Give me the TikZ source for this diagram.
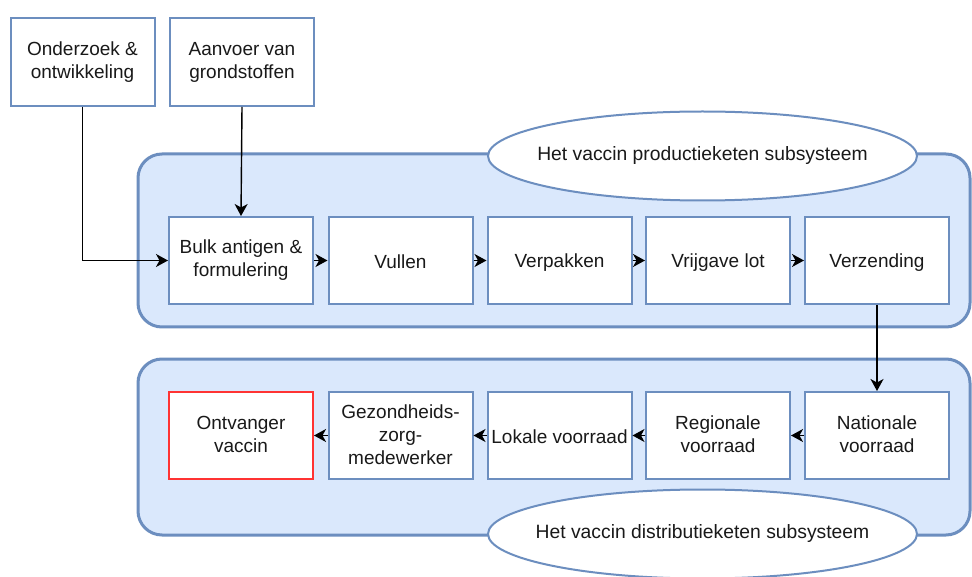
\documentclass[tikz,border=0pt]{standalone}
\usepackage{fontspec}
\setmainfont{Liberation Sans}
\usetikzlibrary{arrows.meta,shapes.geometric}
\definecolor{dblue}{HTML}{6C8EBF}
\definecolor{lblue}{HTML}{DAE8FC}
\definecolor{dred}{HTML}{FF3333}
\newcommand\mystrut{\rule[-2pt]{0pt}{20pt}}
\tikzset{
  stepbox/.style={draw=dblue, line width=2pt, fill=white, minimum width=144pt, minimum height=87pt, inner sep=1pt, align=center, font=\fontsize{19}{23}\selectfont, text=black!90, execute at begin node=\mystrut, execute at end node=\mystrut},
  redbox/.style={stepbox, draw=dred},
  group/.style={draw=dblue, line width=3pt, fill=lblue, rounded corners=24pt},
  label/.style={ellipse, draw=dblue, line width=2pt, fill=white, minimum width=429pt, minimum height=89pt, inner sep=0pt, font=\fontsize{19.3}{23}\selectfont, text=black!90},
  flow/.style={draw=black, line width=1.4pt, -{Stealth[length=12pt,width=13pt,inset=3.5pt]}}
}
\begin{document}
\begin{tikzpicture}[x=1pt,y=-1pt]
\useasboundingbox (0,0) rectangle (972,577);
\fill[white] (0,0) rectangle (972,577);
% containers
\draw[group] (138,154) rectangle (970,327);
\draw[group] (138,359) rectangle (970,535);
\node[label] (lab1) at (702.5,156) {\makebox[0pt]{Het vaccin productieketen subsysteem}};
\node[label] (lab2) at (702.5,534) {\makebox[0pt]{Het vaccin distributieketen subsysteem}};
% top inputs
\node[stepbox, minimum height=88pt] (ond) at (82.5,62) {Onderzoek \&\\ontwikkeling};
\node[stepbox, minimum height=88pt] (aanv) at (242,62) {Aanvoer van\\grondstoffen};
% production row
\node[stepbox] (b1) at (241,260.5) {Bulk antigen \&\\formulering};
\node[stepbox] (b2) at (400.5,260.5) {Vullen};
\node[stepbox] (b3) at (559.5,260.5) {Verpakken};
\node[stepbox] (b4) at (718,260.5) {Vrijgave lot};
\node[stepbox] (b5) at (877,260.5) {Verzending};
% distribution row
\node[redbox] (r1) at (241,435.5) {Ontvanger\\vaccin};
\node[stepbox] (r2) at (400.5,435.5) {Gezondheids-\\zorg-\\medewerker};
\node[stepbox] (r3) at (559.5,435.5) {Lokale voorraad};
\node[stepbox] (r4) at (718,435.5) {Regionale\\voorraad};
\node[stepbox] (r5) at (877,435.5) {Nationale\\voorraad};
% connectors
\draw[flow] (ond.south) |- (b1.west);
\draw[flow] (aanv.south) -- (b1.north);
\draw[flow] (b1.east) -- (b2.west);
\draw[flow] (b2.east) -- (b3.west);
\draw[flow] (b3.east) -- (b4.west);
\draw[flow] (b4.east) -- (b5.west);
\draw[flow] (b5.south) -- (r5.north);
\draw[flow] (r5.west) -- (r4.east);
\draw[flow] (r4.west) -- (r3.east);
\draw[flow] (r3.west) -- (r2.east);
\draw[flow] (r2.west) -- (r1.east);
\end{tikzpicture}
\end{document}
